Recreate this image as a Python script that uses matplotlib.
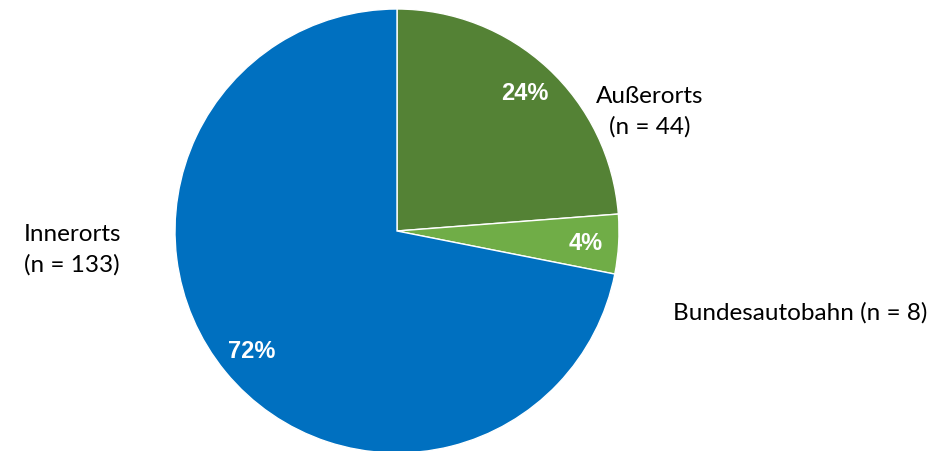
import matplotlib.pyplot as plt

categories = ["Außerorts", "Bundesautobahn", "Innerorts"]
counts = [44, 8, 133]
colors = ["#548235", "#70AD47", "#0070C0"]

fig = plt.figure(figsize=(9.4, 4.52), dpi=100)
ax = fig.add_axes([0, 0, 1, 1])

wedges, texts, autotexts = ax.pie(
    counts, colors=colors, startangle=90, counterclock=False,
    center=(397, 220), radius=222, frame=True,
    autopct=lambda p: "%d%%" % round(p), pctdistance=0.85,
    wedgeprops=dict(edgecolor="white", linewidth=1),
    textprops=dict(color="white", fontsize=17, fontweight="bold",
                   family="Liberation Sans"))
ax.set_xlim(0, 940)
ax.set_ylim(0, 452)
ax.set_aspect("equal")
ax.axis("off")

lab = dict(fontsize=17.5, family="Lato", color="black", linespacing=1.55)
ax.text(650, 340, "%s\n(n = %d)" % (categories[0], counts[0]), ha="center", va="center", **lab)
ax.text(800, 139, "%s (n = %d)" % (categories[1], counts[1]), ha="center", va="center", **lab)
ax.text(72, 202, "%s\n(n = %d)" % (categories[2], counts[2]), ha="center", va="center", **lab)

fig.savefig("out.png", dpi=100)
